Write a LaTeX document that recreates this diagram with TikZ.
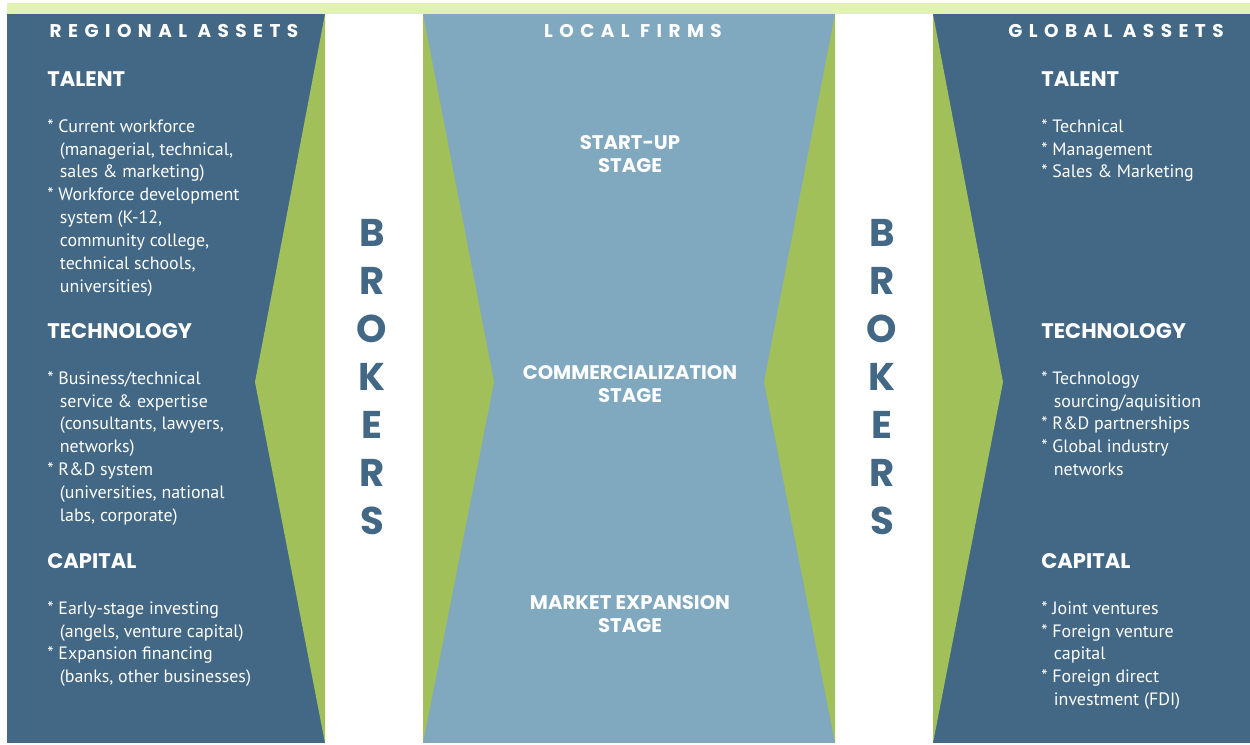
\documentclass[tikz,border=0pt]{standalone}
\usepackage{fontspec}
\setmainfont{PT Sans}
\newfontfamily\brokerfont{Poppins}
\definecolor{assetblue}{HTML}{426886}
\definecolor{firmblue}{HTML}{80A8BF}
\definecolor{brokergreen}{HTML}{A2C05A}
\definecolor{topband}{HTML}{E0F2B6}
\newcommand{\more}{\hspace*{0.7em}}

\begin{document}
\begin{tikzpicture}[x=0.02cm,y=-0.02cm,
    title/.style={text=white,inner sep=0,font=\brokerfont\bfseries\fontsize{10.5}{12}\selectfont\addfontfeature{LetterSpace=35}},
    head/.style={text=white,inner sep=0,anchor=west,font=\brokerfont\bfseries\fontsize{12}{13}\selectfont},
    items/.style={text=white,inner sep=0,anchor=north west,align=left,font=\fontsize{10.2}{13.04}\selectfont},
    stage/.style={text=white,inner sep=0,align=center,font=\brokerfont\bfseries\fontsize{11.2}{13.04}\selectfont},
    letter/.style={text=assetblue,inner sep=0,font=\brokerfont\bfseries\fontsize{22}{24}\selectfont}]
  \useasboundingbox (0,0) rectangle (1250,744);
  \fill[white] (0,0) rectangle (1250,744);
  \fill[topband] (7,3) rectangle (1250,14);
  \fill[assetblue] (7,14) rectangle (325,743);
  \fill[firmblue] (423,14) rectangle (835,743);
  \fill[assetblue] (933,14) rectangle (1250,743);
  \fill[brokergreen] (325,14) -- (255,382) -- (325,743) -- cycle;
  \fill[brokergreen] (423,14) -- (494,382) -- (423,743) -- cycle;
  \fill[brokergreen] (835,14) -- (764,382) -- (835,743) -- cycle;
  \fill[brokergreen] (933,14) -- (1003,382) -- (933,743) -- cycle;

  \node[title] (regional) at (174,31) {REGIONAL ASSETS};
  \node[title] (local) at (633,31) {LOCAL FIRMS};
  \node[title] (global) at (1116,31) {GLOBAL ASSETS};

  \foreach \l [count=\i] in {B,R,O,K,E,R,S} {
    \node[letter] (brokL-\i) at (372,185+48*\i) {\l};
    \node[letter] (brokR-\i) at (882,185+48*\i) {\l};
  }

  \node[stage] (startup) at (630,154.5) {START-UP\\STAGE};
  \node[stage] (commerce) at (630,384.5) {COMMERCIALIZATION\\STAGE};
  \node[stage] (market) at (630,614.5) {MARKET EXPANSION\\STAGE};

  \node[head] (talentL) at (47,79) {TALENT};
  \node[items] (talentL-list) at (47,119) {* Current workforce\\\more(managerial, technical,\\\more sales \& marketing)\\
    * Workforce development\\\more system (K-12,\\\more community college,\\\more technical schools,\\\more universities)};
  \node[head] (techL) at (47,331) {TECHNOLOGY};
  \node[items] (techL-list) at (47,371) {* Business/technical\\\more service \& expertise\\\more(consultants, lawyers,\\\more networks)\\
    * R\&D system\\\more(universities, national\\\more labs, corporate)};
  \node[head] (capitalL) at (47,561) {CAPITAL};
  \node[items] (capitalL-list) at (47,601) {* Early-stage investing\\\more(angels, venture capital)\\
    * Expansion financing\\\more(banks, other businesses)};

  \node[head] (talentR) at (1041,79) {TALENT};
  \node[items] (talentR-list) at (1041,119) {* Technical\\* Management\\* Sales \& Marketing};
  \node[head] (techR) at (1041,331) {TECHNOLOGY};
  \node[items] (techR-list) at (1041,371) {* Technology\\\more sourcing/aquisition\\* R\&D partnerships\\
    * Global industry\\\more networks};
  \node[head] (capitalR) at (1041,561) {CAPITAL};
  \node[items] (capitalR-list) at (1041,601) {* Joint ventures\\* Foreign venture\\\more capital\\
    * Foreign direct\\\more investment (FDI)};
\end{tikzpicture}
\end{document}
